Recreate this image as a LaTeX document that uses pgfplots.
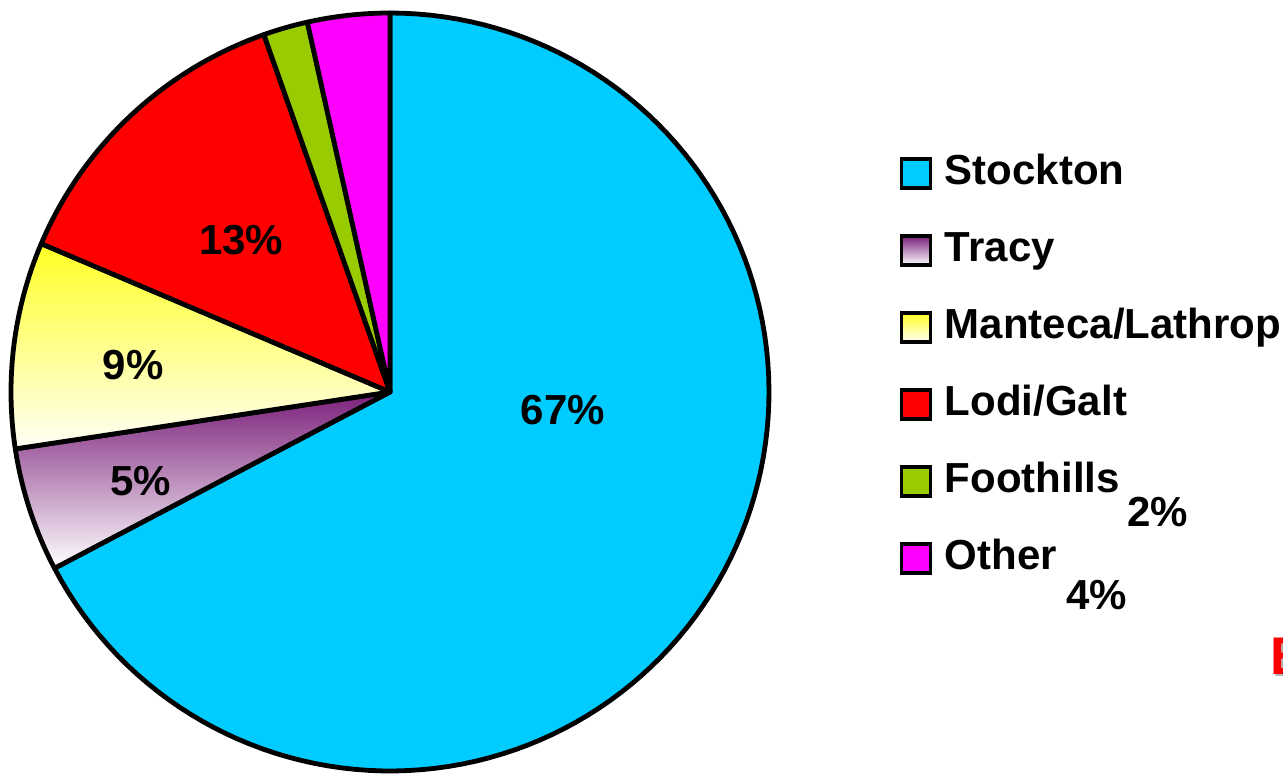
\documentclass[border=0pt]{standalone}
\usepackage{pgfplots}
\usepackage{pgfplotstable}
\pgfplotsset{compat=1.18}
\usepackage{fontspec}
\setmainfont{Liberation Sans}

\definecolor{stockton}{HTML}{00CCFF}
\definecolor{tracytop}{HTML}{7A1F7A}
\definecolor{mantop}{HTML}{FFFF22}
\definecolor{manbot}{HTML}{FFFFF8}
\definecolor{lodi}{HTML}{FF0000}
\definecolor{foothills}{HTML}{99CC00}
\definecolor{other}{HTML}{FF00FF}

\newcommand\lbl{\fontsize{21bp}{25bp}\selectfont\bfseries}

% share of each area, in per cent, clockwise from 12 o'clock
\pgfplotstableread{
name      value
Stockton  67.3
Tracy     5.3
Manteca   8.8
Lodi      13.2
Foothills 1.9
Other     3.5
}\sharetable

% start/end angle of every slice
\xdef\cum{0}
\foreach \i/\n in {0/A,1/B,2/C,3/D,4/E,5/F}{%
  \pgfplotstablegetelem{\i}{value}\of\sharetable
  \pgfmathsetmacro\tmpA{90-3.6*\cum}%
  \pgfmathsetmacro\tmpC{\cum+\pgfplotsretval}%
  \pgfmathsetmacro\tmpB{90-3.6*\tmpC}%
  \expandafter\xdef\csname e\n\endcsname{\tmpA}%
  \expandafter\xdef\csname s\n\endcsname{\tmpB}%
  \xdef\cum{\tmpC}%
}

\begin{document}
\begin{tikzpicture}
\useasboundingbox (0,0) rectangle (641.5bp,388bp);
\begin{axis}[
    at={(195bp,192bp)}, anchor=center,
    width=379bp, height=379bp, scale only axis,
    xmin=-1, xmax=1, ymin=-1, ymax=1,
    hide axis, clip=false,
    slice/.style={draw=black, line width=2.4bp, line join=round, samples=120},
    legend style={at={(1.172,0.815)}, anchor=north west, draw=none, fill=none,
        inner sep=0pt, font=\lbl, row sep=18.5bp,
        nodes={inner sep=0pt, text height=15.5bp, text depth=4.5bp}},
    legend cell align=left,
    legend image code/.code={
        \draw[#1, line width=1.8bp, line join=miter] (-0.5bp,-7.3bp) rectangle (14bp,7.3bp);
        \path (20bp,0bp);},
]
\addplot[slice, fill=stockton, domain=\sA:\eA] ({cos(x)},{sin(x)}) -- (0,0) -- cycle;
\addlegendentry{Stockton}
\addplot[slice, top color=tracytop, bottom color=white, domain=\sB:\eB] ({cos(x)},{sin(x)}) -- (0,0) -- cycle;
\addlegendentry{Tracy}
\addplot[slice, top color=mantop, bottom color=manbot, domain=\sC:\eC] ({cos(x)},{sin(x)}) -- (0,0) -- cycle;
\addlegendentry{Manteca/Lathrop}
\addplot[slice, fill=lodi, domain=\sD:\eD] ({cos(x)},{sin(x)}) -- (0,0) -- cycle;
\addlegendentry{Lodi/Galt}
\addplot[slice, fill=foothills, domain=\sE:\eE] ({cos(x)},{sin(x)}) -- (0,0) -- cycle;
\addlegendentry{Foothills}
\addplot[slice, fill=other, domain=\sF:\eF] ({cos(x)},{sin(x)}) -- (0,0) -- cycle;
\addlegendentry{Other}

\node[font=\lbl] at (axis cs:0.456,-0.047) {67\%};
\node[font=\lbl] at (axis cs:-0.393,0.401) {13\%};
\node[font=\lbl] at (axis cs:-0.678,0.071) {9\%};
\node[font=\lbl] at (axis cs:-0.657,-0.235) {5\%};
\node[font=\lbl] at (axis cs:2.026,-0.317) {2\%};
\node[font=\lbl] at (axis cs:1.865,-0.536) {4\%};
\end{axis}
\node[anchor=base west, inner sep=0pt, text=gray!60, font=\fontsize{26.5bp}{30bp}\selectfont\bfseries] at (636bp,49.5bp) {E};
\node[anchor=base west, inner sep=0pt, text=red, font=\fontsize{26.5bp}{30bp}\selectfont\bfseries] at (635bp,50.5bp) {E};
\end{tikzpicture}
\end{document}
